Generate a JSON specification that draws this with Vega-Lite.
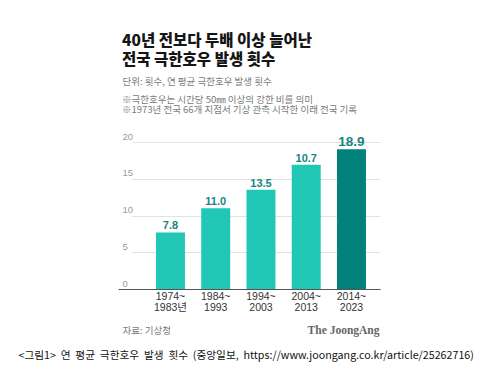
{
  "$schema": "https://vega.github.io/schema/vega-lite/v6.json",
  "width": 262,
  "height": 147,
  "autosize": {"type": "none"},
  "padding": {"left": 118, "top": 142, "right": 106, "bottom": 82},
  "background": "white",
  "config": {"view": {"stroke": null}},
  "title": {
    "text": ["40년 전보다 두배 이상 늘어난", "전국 극한호우 발생 횟수"],
    "subtitle": ["※극한호우는 시간당 50㎜ 이상의 강한 비를 의미", "※1973년 전국 66개 지점서 기상 관측 시작한 이래 전국 기록"],
    "anchor": "start",
    "frame": "group",
    "dx": 4,
    "offset": -38,
    "font": "Noto Sans CJK KR",
    "fontSize": 15.5,
    "fontWeight": 800,
    "color": "#151515",
    "lineHeight": 18.5,
    "subtitleFont": "Noto Sans CJK KR",
    "subtitleFontSize": 9.5,
    "subtitleColor": "#7a7a7a",
    "subtitleLineHeight": 10,
    "subtitlePadding": 26.5
  },
  "data": {
    "values": [
      {"period": "1974~1983년", "value": 7.7, "label": "7.8", "highlight": false},
      {"period": "1984~1993", "value": 11.0, "label": "11.0", "highlight": false},
      {"period": "1994~2003", "value": 13.5, "label": "13.5", "highlight": false},
      {"period": "2004~2013", "value": 16.9, "label": "10.7", "highlight": false},
      {"period": "2014~2023", "value": 19.0, "label": "18.9", "highlight": true}
    ]
  },
  "resolve": {"axis": {"x": "independent", "y": "independent"}},
  "layer": [
    {
      "mark": {"type": "bar"},
      "encoding": {
        "x": {
          "field": "period",
          "type": "nominal",
          "sort": null,
          "scale": {"paddingInner": 0.36, "paddingOuter": 0.575, "align": 0.73},
          "axis": {
            "orient": "bottom",
            "labelAngle": 0,
            "labelExpr": "[split(datum.label, '~')[0] + '~', split(datum.label, '~')[1]]",
            "labelFont": "Liberation Sans, Noto Sans CJK KR",
            "labelFontSize": 10.5,
            "labelColor": "#333333",
            "labelLineHeight": 11.7,
            "labelBaseline": "top",
            "labelPadding": 2,
            "ticks": false,
            "domain": true,
            "domainColor": "#555555",
            "domainWidth": 1,
            "grid": false,
            "title": "자료: 기상청",
            "titleX": 4,
            "titleY": 41,
            "titleAlign": "left",
            "titleBaseline": "middle",
            "titleFont": "Noto Sans CJK KR",
            "titleFontSize": 9.5,
            "titleFontWeight": "normal",
            "titleColor": "#7a7a7a"
          }
        },
        "y": {
          "field": "value",
          "type": "quantitative",
          "scale": {"domain": [0, 20], "nice": false},
          "axis": {
            "orient": "left",
            "values": [0, 5, 10, 15, 20],
            "labelOverlap": false,
            "labelAlign": "left",
            "labelPadding": -4,
            "labelBaseline": "bottom",
            "labelOffset": -1,
            "labelFont": "Liberation Sans",
            "labelFontSize": 9.5,
            "labelColor": "#9a9a9a",
            "ticks": false,
            "domain": false,
            "grid": true,
            "gridColor": "#e2e2e2",
            "gridDash": [0, 14, 1000, 0],
            "title": "<그림1>\u00a0 연\u00a0 평균\u00a0 극한호우\u00a0 발생\u00a0 횟수\u00a0 (중앙일보,\u00a0 https://www.joongang.co.kr/article/25262716)",
            "titleAngle": 0,
            "titleX": -100,
            "titleY": 213,
            "titleAlign": "left",
            "titleBaseline": "middle",
            "titleFont": "Noto Sans CJK KR",
            "titleFontSize": 10.7,
            "titleFontWeight": "normal",
            "titleColor": "#111111"
          }
        },
        "color": {
          "condition": {"test": "datum.highlight", "value": "#00827a"},
          "value": "#20c7b4"
        }
      }
    },
    {
      "mark": {"type": "text", "baseline": "alphabetic", "dy": -3, "font": "Liberation Sans", "fontWeight": "bold", "color": "#16857f"},
      "encoding": {
        "x": {
          "field": "period",
          "type": "nominal",
          "sort": null,
          "axis": {
            "orient": "bottom",
            "labels": false,
            "ticks": false,
            "domain": false,
            "grid": false,
            "title": "The JoongAng",
            "titleX": 261,
            "titleY": 41,
            "titleAlign": "right",
            "titleBaseline": "middle",
            "titleFont": "Liberation Serif",
            "titleFontSize": 11.5,
            "titleFontWeight": "bold",
            "titleColor": "#666666"
          }
        },
        "y": {
          "field": "value",
          "type": "quantitative",
          "axis": {
            "orient": "left",
            "labels": false,
            "ticks": false,
            "domain": false,
            "grid": false,
            "title": "단위: 횟수, 연 평균 극한호우 발생 횟수",
            "titleAngle": 0,
            "titleX": 4,
            "titleY": -61,
            "titleAlign": "left",
            "titleBaseline": "middle",
            "titleFont": "Noto Sans CJK KR",
            "titleFontSize": 9.5,
            "titleFontWeight": "normal",
            "titleColor": "#7a7a7a"
          }
        },
        "text": {"field": "label"},
        "size": {
          "condition": {"test": "datum.highlight", "value": 13.5},
          "value": 11
        }
      }
    }
  ]
}
